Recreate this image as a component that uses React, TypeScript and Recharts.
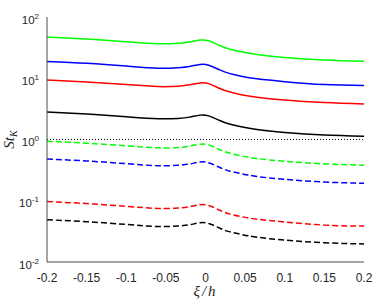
import React from "react";
import { LineChart, Line, XAxis, YAxis, ReferenceLine } from "recharts";

// positions along the wall, xi/h
const XI = [-0.2, -0.15, -0.1, -0.06, -0.035, -0.02, -0.007, 0.005, 0.018, 0.03, 0.045, 0.065, 0.1, 0.15, 0.2];

// solid curves
const GREEN_SOLID = [47.1, 43.7, 39.5, 36.6, 37.2, 39.0, 42.1, 40.5, 34.2, 30.0, 27.1, 24.4, 21.9, 19.8, 18.9];
const BLUE_SOLID = [18.8, 17.5, 15.8, 14.6, 14.9, 15.6, 16.8, 16.2, 13.7, 12.0, 10.8, 9.8, 8.8, 7.9, 7.6];
const RED_SOLID = [9.4, 8.7, 7.9, 7.3, 7.4, 7.8, 8.4, 8.1, 6.8, 6.0, 5.4, 4.9, 4.4, 4.0, 3.8];
const BLACK_SOLID = [2.8, 2.6, 2.35, 2.18, 2.21, 2.32, 2.5, 2.41, 2.04, 1.79, 1.61, 1.45, 1.3, 1.18, 1.13];

// dashed curves
const GREEN_DASHED = [0.94, 0.87, 0.79, 0.73, 0.74, 0.78, 0.84, 0.81, 0.68, 0.6, 0.54, 0.49, 0.44, 0.4, 0.38];
const BLUE_DASHED = [0.48, 0.446, 0.403, 0.373, 0.38, 0.398, 0.43, 0.413, 0.349, 0.306, 0.277, 0.249, 0.223, 0.202, 0.193];
const RED_DASHED = [0.097, 0.09, 0.081, 0.075, 0.076, 0.08, 0.086, 0.083, 0.07, 0.061, 0.055, 0.05, 0.045, 0.04, 0.0386];
const BLACK_DASHED = [0.049, 0.0455, 0.041, 0.038, 0.0388, 0.0406, 0.0438, 0.0422, 0.0356, 0.0313, 0.0282, 0.0254, 0.0228, 0.0206, 0.0197];

const X_TICKS = [-0.2, -0.15, -0.1, -0.05, 0, 0.05, 0.1, 0.15, 0.2];
const Y_TICKS = [0.01, 0.1, 1, 10, 100];
const Y_MINOR = [
  0.02, 0.03, 0.04, 0.05, 0.06, 0.07, 0.08, 0.09,
  0.2, 0.3, 0.4, 0.5, 0.6, 0.7, 0.8, 0.9,
  2, 3, 4, 5, 6, 7, 8, 9,
  20, 30, 40, 50, 60, 70, 80, 90,
];

const data = XI.map((xi, i) => ({
  xi,
  gS: GREEN_SOLID[i],
  bS: BLUE_SOLID[i],
  rS: RED_SOLID[i],
  kS: BLACK_SOLID[i],
  gD: GREEN_DASHED[i],
  bD: BLUE_DASHED[i],
  rD: RED_DASHED[i],
  kD: BLACK_DASHED[i],
}));

const AXIS = "#4d4d4d";
const TXT = "#262626";
const SANS = "'Liberation Sans', Arial, sans-serif";
const SERIF = "'Liberation Serif', 'DejaVu Serif', serif";

function PowTick(props: any) {
  const { x, y, payload } = props;
  const exp = Math.round(Math.log10(payload.value));
  return (
    <text x={x} y={y} dy={6.5} textAnchor="end" fill={TXT} fontSize={11.5} fontFamily={SANS}>
      <tspan>10</tspan>
      <tspan dy={-5} fontSize={8}>{exp}</tspan>
    </text>
  );
}

const blank = () => "";

export default function App() {
  return (
    <div style={{ position: "absolute", left: 0, top: 0, width: 374, height: 300, background: "#fff" }}>
      <LineChart width={374} height={300} data={data} margin={{ top: 17, right: 10, bottom: 0, left: 0 }}>
        <XAxis
          xAxisId="x"
          dataKey="xi"
          type="number"
          domain={[-0.2, 0.2]}
          ticks={X_TICKS}
          interval={0}
          height={38}
          tickLine={false}
          tickMargin={5}
          axisLine={{ stroke: AXIS }}
          tick={{ fill: TXT, fontSize: 12, fontFamily: SANS }}
          label={{
            value: "ξ/h",
            position: "insideBottom",
            offset: 4,
            style: { fontFamily: SERIF, fontStyle: "italic", fontSize: 15, fill: TXT, letterSpacing: 2 },
          }}
        />
        <XAxis xAxisId="xb" dataKey="xi" type="number" domain={[-0.2, 0.2]} ticks={X_TICKS} interval={0}
               orientation="bottom" mirror height={0} tickSize={4} tickFormatter={blank}
               axisLine={{ stroke: AXIS }} tickLine={{ stroke: AXIS }} />
        <XAxis xAxisId="xt" dataKey="xi" type="number" domain={[-0.2, 0.2]} ticks={X_TICKS} interval={0}
               orientation="top" mirror height={0} tickSize={4} tickFormatter={blank}
               axisLine={{ stroke: AXIS }} tickLine={{ stroke: AXIS }} />
        <YAxis
          yAxisId="y"
          scale="log"
          domain={[0.01, 100]}
          allowDataOverflow
          ticks={Y_TICKS}
          interval={0}
          width={47}
          tickLine={false}
          axisLine={{ stroke: AXIS }}
          tick={<PowTick />}
          label={{
            value: "St",
            angle: -90,
            position: "insideLeft",
            content: (p: any) => {
              const vb = p.viewBox;
              const cx = vb.x + 9;
              const cy = vb.y + vb.height / 2;
              return (
                <text transform={`translate(${cx},${cy}) rotate(-90)`} textAnchor="middle" dy={5}
                      fontFamily={SERIF} fontStyle="italic" fontSize={15} fill={TXT}>
                  <tspan>St</tspan>
                  <tspan dy={3} fontSize={10}>K</tspan>
                </text>
              );
            },
          }}
        />
        <YAxis yAxisId="yl" scale="log" domain={[0.01, 100]} allowDataOverflow ticks={Y_TICKS} interval={0}
               mirror width={0} tickSize={4} tickFormatter={blank} axisLine={false} tickLine={{ stroke: AXIS }} />
        <YAxis yAxisId="ylm" scale="log" domain={[0.01, 100]} allowDataOverflow ticks={Y_MINOR} interval={0}
               mirror width={0} tickSize={2} tickFormatter={blank} axisLine={false} tickLine={{ stroke: AXIS }} />
        <YAxis yAxisId="yr" orientation="right" scale="log" domain={[0.01, 100]} allowDataOverflow ticks={Y_TICKS}
               interval={0} mirror width={0} tickSize={4} tickFormatter={blank} axisLine={{ stroke: AXIS }}
               tickLine={{ stroke: AXIS }} />
        <YAxis yAxisId="yrm" orientation="right" scale="log" domain={[0.01, 100]} allowDataOverflow ticks={Y_MINOR}
               interval={0} mirror width={0} tickSize={2} tickFormatter={blank} axisLine={false}
               tickLine={{ stroke: AXIS }} />

        <ReferenceLine xAxisId="x" yAxisId="y" y={1} stroke="#000" strokeWidth={1.2} strokeDasharray="1 2" />

        <Line xAxisId="x" yAxisId="y" dataKey="gS" type="natural" stroke="#00ff00" strokeWidth={1.5} dot={false} isAnimationActive={false} />
        <Line xAxisId="x" yAxisId="y" dataKey="bS" type="natural" stroke="#0000ff" strokeWidth={1.5} dot={false} isAnimationActive={false} />
        <Line xAxisId="x" yAxisId="y" dataKey="rS" type="natural" stroke="#ff0000" strokeWidth={1.5} dot={false} isAnimationActive={false} />
        <Line xAxisId="x" yAxisId="y" dataKey="kS" type="natural" stroke="#000000" strokeWidth={1.5} dot={false} isAnimationActive={false} />
        <Line xAxisId="x" yAxisId="y" dataKey="gD" type="natural" stroke="#00ff00" strokeWidth={1.5} strokeDasharray="6 3" dot={false} isAnimationActive={false} />
        <Line xAxisId="x" yAxisId="y" dataKey="bD" type="natural" stroke="#0000ff" strokeWidth={1.5} strokeDasharray="6 3" dot={false} isAnimationActive={false} />
        <Line xAxisId="x" yAxisId="y" dataKey="rD" type="natural" stroke="#ff0000" strokeWidth={1.5} strokeDasharray="6 3" dot={false} isAnimationActive={false} />
        <Line xAxisId="x" yAxisId="y" dataKey="kD" type="natural" stroke="#000000" strokeWidth={1.5} strokeDasharray="6 3" dot={false} isAnimationActive={false} />
      </LineChart>
    </div>
  );
}
